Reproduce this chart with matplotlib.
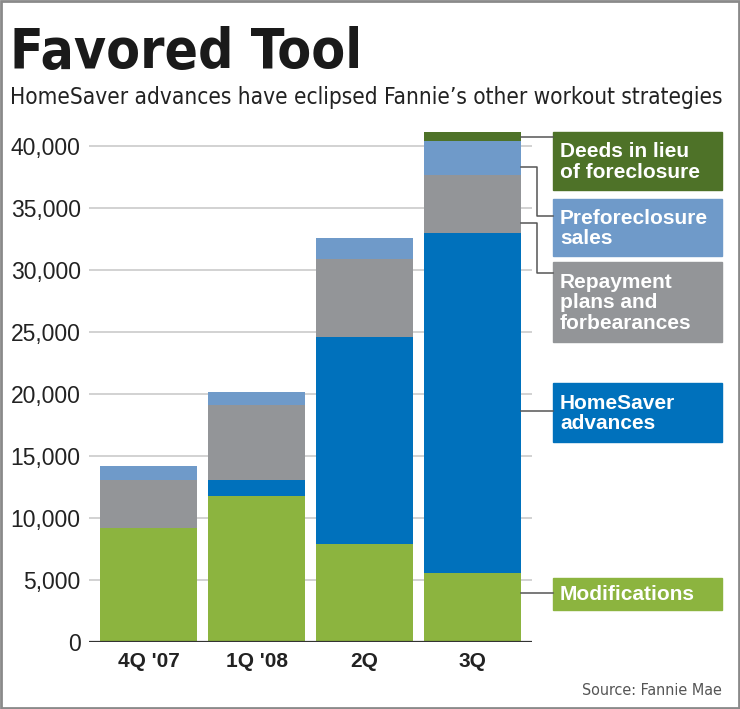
import numpy as np
import matplotlib.pyplot as plt
from matplotlib.patches import Rectangle
from matplotlib.lines import Line2D
from matplotlib import font_manager

# data (number of workouts per quarter)
quarters = ["4Q '07", "1Q '08", "2Q", "3Q"]
modifications = [9170, 11800, 7900, 5600]
homesaver = [0, 1270, 16700, 27400]
repayment = [3900, 6070, 6270, 4650]
preforeclosure = [1130, 1040, 1700, 2700]
deeds = [0, 0, 0, 800]

series_names = ["Modifications", "HomeSaver\nadvances", "Repayment\nplans and\nforbearances",
                "Preforeclosure\nsales", "Deeds in lieu\nof foreclosure"]
colors = ["#8cb43f", "#0071bc", "#939598", "#6f9ac9", "#4e7228"]

# what narrow fonts do we have
names = sorted(set((f.name, f.stretch, f.weight) for f in font_manager.fontManager.ttflist))
print([n for n in names if "Narrow" in n[0] or n[1] != "normal"])

W, H = 740, 709

def fx(px):
    return px / W

def fy(py):
    return 1 - py / H

fig = plt.figure(figsize=(W / 100, H / 100), dpi=100)
fig.patch.set_facecolor("white")

ax = fig.add_axes([fx(89), fy(642), (531.7 - 89) / W, (642 - 121) / H])
ax.set_xlim(-0.551, 3.548)
ax.set_ylim(0, 42000)

x = np.arange(len(quarters))
bottom = np.zeros(len(quarters))
stack = [modifications, homesaver, repayment, preforeclosure, deeds]
for vals, c in zip(stack, colors):
    ax.bar(x, vals, 0.9, bottom=bottom, color=c, zorder=2)
    bottom += np.array(vals)

yt = np.arange(0, 40001, 5000)
ax.set_yticks(yt)
ax.set_yticklabels(["{:,}".format(v) for v in yt], family="Liberation Sans", fontsize=16.5, color="#222")
for v in yt[1:]:
    ax.axhline(v, color="#cfcfcf", lw=1.3, zorder=1)
ax.axhline(0, color="#333333", lw=1.6, zorder=3)
ax.set_xticks(x)
ax.set_xticklabels(quarters, family="Liberation Sans", weight="bold", fontsize=15, color="#222")
ax.tick_params(length=0)
ax.tick_params(axis="y", pad=6)
ax.tick_params(axis="x", pad=7)
for s in ax.spines.values():
    s.set_visible(False)

# titles, fitted to the width used in the original
title = fig.text(fx(10), fy(68), "Favored Tool", family="DejaVu Sans", stretch="condensed", weight="bold",
                 fontsize=48, color="#1a1a1a", va="baseline")
sub = fig.text(fx(10), fy(104), "HomeSaver advances have eclipsed Fannie\u2019s other workout strategies",
               family="DejaVu Sans", stretch="condensed", fontsize=18, color="#222", va="baseline")
fig.canvas.draw()
r = fig.canvas.get_renderer()
for t, target in [(title, 352), (sub, 712)]:
    w = t.get_window_extent(r).width
    t.set_fontsize(t.get_fontsize() * target / w)

# label boxes on the right
boxes = [(578, 610), (383, 442), (262, 342), (199, 256), (132, 190)]
for name, c, (y0, y1) in zip(series_names, colors, boxes):
    fig.add_artist(Rectangle((fx(553), fy(y1)), (722 - 553) / W, (y1 - y0) / H,
                             transform=fig.transFigure, color=c))
    fig.text(fx(560), fy((y0 + y1) / 2 + 1), name, color="white", weight="semibold",
             family="Liberation Sans", fontsize=15, va="center", ha="left", linespacing=1.1)

# connector lines from the 3Q bar to the boxes
connectors = [
    [(521, 593), (553, 593)],
    [(521, 410.7), (553, 410.7)],
    [(521, 223), (536.7, 223), (536.7, 272.7), (553, 272.7)],
    [(521, 166.7), (536.7, 166.7), (536.7, 215.7), (553, 215.7)],
    [(521, 137), (553, 137)],
]
for pts in connectors:
    xs = [fx(p[0]) for p in pts]
    ys = [fy(p[1]) for p in pts]
    fig.add_artist(Line2D(xs, ys, color="#555555", lw=1.1, transform=fig.transFigure))

fig.text(fx(722), fy(695), "Source: Fannie Mae", family="DejaVu Sans", stretch="condensed", fontsize=11.5,
         color="#555555", ha="right", va="baseline")

# frame around the graphic
fig.add_artist(Rectangle((0.001, 0.001), 0.997, 0.997, transform=fig.transFigure,
                         fill=False, edgecolor="#8a8a8a", lw=2))

fig.savefig("out.png", dpi=100, facecolor="white")
